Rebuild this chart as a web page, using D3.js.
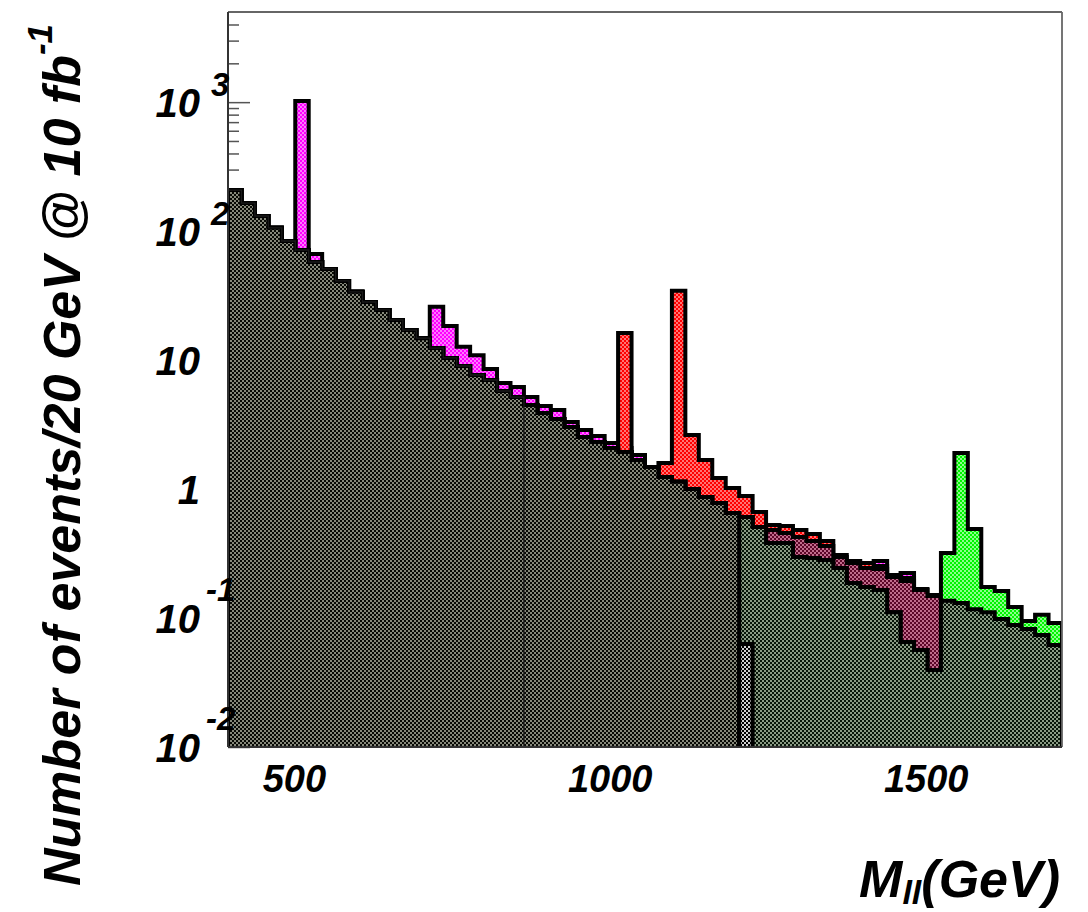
<!DOCTYPE html>
<html>
<head>
<meta charset="utf-8">
<script src="https://cdn.jsdelivr.net/npm/d3@7/dist/d3.min.js"></script>
<style>
  body { margin: 0; background: #fff; }
  svg { display: block; }
  text { font-family: "Liberation Sans", Arial, sans-serif; font-weight: bold; font-style: italic; fill: #000; }
</style>
</head>
<body>
<div id="chart"></div>
<script>
// 1: DATA (62 bins across the visible mass window, events per bin)
const xLow = 395, xHigh = 1715, nBins = 62;

const smB = [208, 165, 131, 106, 83.8, 71.4, 57.6, 50.9, 41.1, 33.8,
  28.2, 24.5, 20.5, 17.1, 14.8, 12.4, 10.4, 9.0, 7.66, 7.01,
  5.76, 5.17, 4.49, 3.89, 3.49, 3.03, 2.53, 2.32, 2.08, 1.94,
  1.68, 1.48, 1.24, 1.14, 1.00, 0.867, 0.779, 0.652, 0.607, 0.508,
  0.382, 0.382, 0.297, 0.292, 0.282, 0.244, 0.187, 0.174, 0.165, 0.111,
  0.0652, 0.0565, 0.0395, 0.136, 0.131, 0.117, 0.111, 0.0983, 0.0883, 0.0822,
  0.0739, 0.0618];

const smA = [208, 165, 131, 106, 83.8, 71.4, 57.6, 50.9, 41.1, 33.8,
  28.2, 24.5, 20.5, 17.1, 14.8, 12.4, 10.4, 9.0, 7.66, 7.01,
  5.76, 5.17, 4.49, 3.89, 3.49, 3.03, 2.53, 2.32, 2.08, 1.94,
  1.68, 1.48, 1.24, 1.14, 1.00, 0.867, 0.779, 0.652, 0, 0,
  0, 0, 0, 0, 0, 0, 0, 0, 0, 0,
  0, 0, 0, 0, 0, 0, 0, 0, 0, 0,
  0, 0];

const smTail = [0, 0, 0, 0, 0, 0, 0, 0, 0, 0,
  0, 0, 0, 0, 0, 0, 0, 0, 0, 0,
  0, 0, 0, 0, 0, 0, 0, 0, 0, 0,
  0, 0, 0, 0, 0, 0, 0, 0, 0.063, 0,
  0, 0, 0, 0, 0, 0, 0, 0, 0, 0,
  0, 0, 0, 0, 0, 0, 0, 0, 0, 0,
  0, 0];

const smThin = [208, 165, 131, 106, 83.8, 71.4, 57.6, 50.9, 41.1, 33.8,
  28.2, 24.5, 20.5, 17.1, 14.8, 12.4, 10.4, 9.0, 7.66, 7.01,
  5.76, 5.17, 0, 0, 0, 0, 0, 0, 0, 0,
  0, 0, 0, 0, 0, 0, 0, 0, 0, 0,
  0, 0, 0, 0, 0, 0, 0, 0, 0, 0,
  0, 0, 0, 0, 0, 0, 0, 0, 0, 0,
  0, 0];

const zpMagenta = [208, 165, 131, 106, 83.8, 1020, 66.5, 50.9, 41.1, 33.8,
  28.2, 24.5, 20.5, 17.1, 14.8, 25.9, 18.4, 12.7, 10.9, 8.53,
  6.64, 6.18, 5.17, 4.41, 4.10, 3.31, 2.87, 2.58, 2.28, 2.08,
  1.84, 1.48, 1.24, 1.14, 1.00, 0.867, 0.779, 0.652, 0.607, 0.508,
  0.382, 0.382, 0.297, 0.292, 0.282, 0.244, 0.187, 0.174, 0.277, 0.111,
  0.223, 0.0565, 0.0395, 0.136, 0.131, 0.117, 0.111, 0.0983, 0.0883, 0.0822,
  0.0739, 0.0618];

const zpRed = [208, 165, 131, 106, 83.8, 71.4, 57.6, 50.9, 41.1, 33.8,
  28.2, 24.5, 20.5, 17.1, 14.8, 12.4, 10.4, 9.0, 7.66, 7.01,
  5.76, 5.17, 4.49, 3.89, 3.49, 3.03, 2.53, 2.32, 2.08, 16.2,
  1.68, 1.48, 1.59, 34.5, 2.63, 1.68, 1.22, 1.02, 0.884, 0.664,
  0.526, 0.517, 0.482, 0.449, 0.396, 0.308, 0.277, 0.267, 0.253, 0.216,
  0.204, 0.168, 0.151, 0.136, 0.131, 0.117, 0.111, 0.0983, 0.0883, 0.0822,
  0.0739, 0.0618];

const zpMaroon = [208, 165, 131, 106, 83.8, 71.4, 57.6, 50.9, 41.1, 33.8,
  28.2, 24.5, 20.5, 17.1, 14.8, 12.4, 10.4, 9.0, 7.66, 7.01,
  5.76, 5.17, 4.49, 3.89, 3.49, 3.03, 2.53, 2.32, 2.08, 1.94,
  1.68, 1.48, 1.24, 1.14, 1.00, 0.867, 0.779, 0.652, 0.607, 0.508,
  0.482, 0.456, 0.425, 0.396, 0.362, 0.297, 0.267, 0.244, 0.240, 0.208,
  0.194, 0.165, 0.148, 0.136, 0.131, 0.117, 0.111, 0.0983, 0.0883, 0.0822,
  0.0739, 0.0618];

const zpGreen = [208, 165, 131, 106, 83.8, 71.4, 57.6, 50.9, 41.1, 33.8,
  28.2, 24.5, 20.5, 17.1, 14.8, 12.4, 10.4, 9.0, 7.66, 7.01,
  5.76, 5.17, 4.49, 3.89, 3.49, 3.03, 2.53, 2.32, 2.08, 1.94,
  1.68, 1.48, 1.24, 1.14, 1.00, 0.867, 0.779, 0.652, 0.607, 0.508,
  0.382, 0.382, 0.297, 0.292, 0.282, 0.244, 0.187, 0.174, 0.165, 0.111,
  0.0652, 0.0565, 0.0395, 0.319, 1.90, 0.490, 0.174, 0.162, 0.122, 0.0948,
  0.106, 0.0915];

const xTickValues = [500, 1000, 1500];
const yMajorTicks = [1e-2, 1e-1, 1, 10, 100, 1000];
const yTickBase = ["10", "10", "1", "10", "10", "10"];
const yTickExp = ["-2", "-1", "", "", "2", "3"];
const xTitle = "M";
const xTitleSub = "ll";
const xTitleRest = "(GeV)";
const yTitle = "Number of events/20 GeV @ 10 fb";
const yTitleExp = "-1";

// 2: LAYOUT
const margin = { top: 12, right: 26, bottom: 165, left: 228 };
const W = 1088, H = 912;
const width = W - margin.left - margin.right;
const height = H - margin.top - margin.bottom;

const svg = d3.select("#chart").append("svg")
    .attr("width", W)
    .attr("height", H);

const defs = svg.append("defs");

// checker fill patterns like ROOT's 3xxx styles
function addChecker(id, c1, c2) {
    const p = defs.append("pattern")
        .attr("id", id)
        .attr("patternUnits", "userSpaceOnUse")
        .attr("width", 4).attr("height", 4);
    p.append("rect").attr("width", 4).attr("height", 4).attr("fill", c2);
    p.append("rect").attr("width", 2).attr("height", 2).attr("fill", c1);
    p.append("rect").attr("x", 2).attr("y", 2).attr("width", 2).attr("height", 2).attr("fill", c1);
}
addChecker("pMagenta", "#ff00ff", "#ff78ff");
addChecker("pRed", "#ff0000", "#ff7474");
addChecker("pMaroon", "#5c0628", "#c06c8c");
addChecker("pGreen", "#00f400", "#8cff8c");
addChecker("pSmB", "#071508", "#8a9a84");
addChecker("pSmA", "#070904", "#86887a");
addChecker("pTail", "#000000", "#d0d0d0");

defs.append("clipPath").attr("id", "plotClip")
    .append("rect").attr("width", width).attr("height", height);

const g = svg.append("g").attr("transform", `translate(${margin.left},${margin.top})`);

// 3: SCALES
const x = d3.scaleLinear().domain([xLow, xHigh]).range([0, width]);
const y = d3.scaleLog().domain([0.01, 5000]).range([height, 0]);
const edges = d3.range(nBins + 1).map(i => xLow + i * (xHigh - xLow) / nBins);

// 4: AXIS TICKS (drawn first, the fills cover them like in ROOT)
const yAxis = d3.axisLeft(y)
    .tickValues(yMajorTicks)
    .tickSize(-22)
    .tickFormat("");
const yMinor = [];
for (let e = -2; e <= 3; e++) {
    for (let m = 2; m <= 9; m++) {
        const v = m * Math.pow(10, e);
        if (v < 5000) yMinor.push(v);
    }
}
const yAxisMinor = d3.axisLeft(y).tickValues(yMinor).tickSize(-11).tickFormat("");

g.append("g").call(yAxis).call(a => a.select(".domain").remove())
    .selectAll("line").attr("stroke", "#555").attr("stroke-width", 1.5);
g.append("g").call(yAxisMinor).call(a => a.select(".domain").remove())
    .selectAll("line").attr("stroke", "#555").attr("stroke-width", 1.5);

// 5: HISTOGRAMS
function histPath(vals) {
    const yb = height + 6;
    const yv = v => v > 0 ? Math.max(-6, y(v)) : yb;
    let d = `M${x(edges[0])},${yb}`;
    vals.forEach((v, i) => { d += `V${yv(v)}H${x(edges[i + 1])}`; });
    d += `V${yb}`;
    return d;
}

const layers = [
    { vals: zpMagenta, fill: "url(#pMagenta)", lw: 4 },
    { vals: zpRed, fill: "url(#pRed)", lw: 4 },
    { vals: zpMaroon, fill: "url(#pMaroon)", lw: 4 },
    { vals: zpGreen, fill: "url(#pGreen)", lw: 4 },
    { vals: smB, fill: "url(#pSmB)", lw: 4 },
    { vals: smA, fill: "url(#pSmA)", lw: 4 },
    { vals: smTail, fill: "url(#pTail)", lw: 4 },
    { vals: smThin, fill: "none", lw: 1.3 }
];

const plot = g.append("g").attr("clip-path", "url(#plotClip)");

layers.forEach(l => {
    const d = histPath(l.vals);
    if (l.fill !== "none") {
        plot.append("path")
            .attr("d", d + "Z")
            .attr("fill", l.fill)
            .attr("stroke", "none");
    }
    plot.append("path")
        .attr("d", d)
        .attr("fill", "none")
        .attr("stroke", l.lw > 2 ? "#000" : "#1a1a1a")
        .attr("stroke-width", l.lw)
        .attr("stroke-linejoin", "miter");
});

// 6: FRAME
g.append("line").attr("x1", 0).attr("x2", width).attr("y1", 0).attr("y2", 0)
    .attr("stroke", "#666").attr("stroke-width", 1.8);
g.append("line").attr("x1", width).attr("x2", width).attr("y1", 0).attr("y2", height)
    .attr("stroke", "#666").attr("stroke-width", 1.8);
g.append("line").attr("x1", 0).attr("x2", 0).attr("y1", 0).attr("y2", height)
    .attr("stroke", "#333").attr("stroke-width", 2);
g.append("line").attr("x1", 0).attr("x2", width).attr("y1", height).attr("y2", height)
    .attr("stroke", "#333").attr("stroke-width", 2);

// 7: TICK LABELS
g.selectAll(".xlab")
    .data(xTickValues)
    .enter().append("text")
    .attr("class", "xlab")
    .attr("x", d => x(d))
    .attr("y", height + 45)
    .attr("text-anchor", "middle")
    .style("font-size", "38px")
    .text(d => d);

yMajorTicks.forEach((v, i) => {
    g.append("text")
        .attr("x", -28)
        .attr("y", y(v) + 15)
        .attr("text-anchor", "end")
        .style("font-size", "40px")
        .text(yTickBase[i]);
    if (yTickExp[i]) {
        const neg = yTickExp[i].startsWith("-");
        g.append("text")
            .attr("x", neg ? -22 : -17)
            .attr("y", y(v) - (neg ? 17 : 6))
            .attr("text-anchor", "start")
            .style("font-size", "33px")
            .text(yTickExp[i]);
    }
});

// 8: AXIS TITLES
const xt = svg.append("text")
    .attr("x", margin.left + width - 2)
    .attr("y", 897)
    .attr("text-anchor", "end")
    .style("font-size", "52px");
xt.append("tspan").text(xTitle);
xt.append("tspan").attr("dy", 7).style("font-size", "34px").text(xTitleSub);
xt.append("tspan").attr("dy", -7).text(xTitleRest);

const yt = svg.append("text")
    .attr("transform", "translate(80,455) rotate(-90)")
    .attr("text-anchor", "middle")
    .style("font-size", "52px");
yt.append("tspan").text(yTitle);
yt.append("tspan").attr("dy", -28).style("font-size", "35px").text(yTitleExp);
</script>
</body>
</html>
